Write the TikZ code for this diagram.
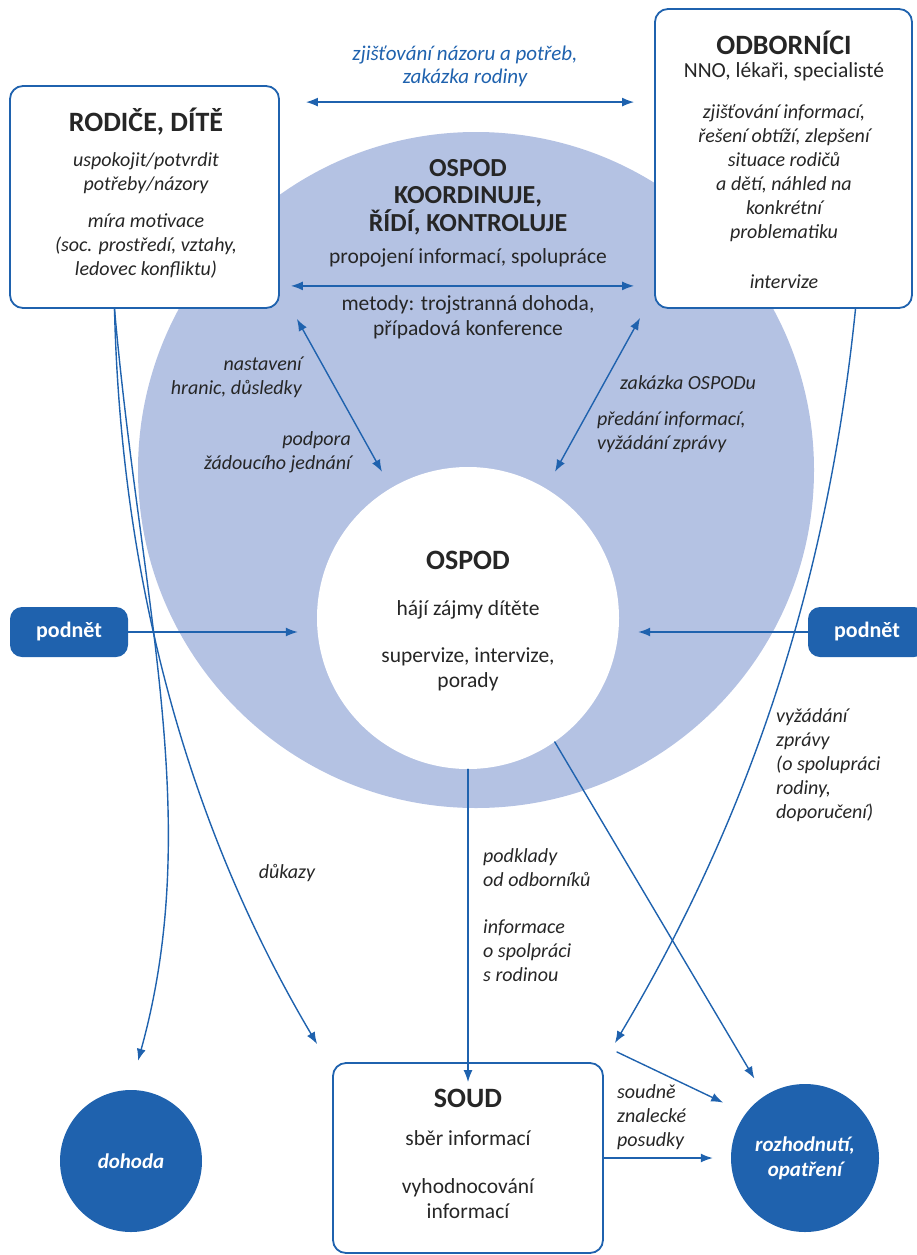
\documentclass[tikz,border=0pt]{standalone}
\usepackage{fontspec}
\setmainfont{Carlito}
\usetikzlibrary{arrows.meta}
\definecolor{modra}{HTML}{1F62AE}
\definecolor{svetla}{HTML}{B4C2E3}
\definecolor{sediva}{HTML}{262626}
\begin{document}
\begin{tikzpicture}[x=1pt,y=-1pt,line join=round,line cap=round,>={Latex[length=12pt,width=9pt]},
  text=sediva,font=\fontsize{21.5}{25}\selectfont,every node/.style={inner sep=1pt},
  sipka/.style={draw=modra,line width=1.4pt},
  ramec/.style={draw=modra,line width=1.8pt,rounded corners=13pt,fill=white,inner sep=0pt},
  nadpis/.style={font=\fontsize{28}{28}\selectfont\bfseries,align=center},
  kurz/.style={font=\fontsize{20}{24}\selectfont\itshape,align=center,inner sep=0pt},
  rovne/.style={align=center},
  tlac/.style={fill=modra,rounded corners=12pt,text=white,font=\fontsize{22}{24}\selectfont\bfseries,minimum width=118pt,minimum height=50pt},
  kolo/.style={circle,fill=modra,text=white,font=\fontsize{21}{25}\selectfont\bfseries\itshape,align=center,minimum size=#1}]
 \useasboundingbox (0,0) rectangle (916,1255);
 % kruhy OSPOD
 \node[circle,fill=svetla,minimum size=676pt] (koord) at (476,470) {};
 \node[circle,fill=white,minimum size=302pt] (ospod) at (468,618) {};
 % ramce a kola
 \node[ramec,minimum width=269pt,minimum height=222pt] (rodice) at (144.5,197) {};
 \node[ramec,minimum width=257pt,minimum height=299pt] (odbor) at (783.5,158.5) {};
 \node[ramec,minimum width=270pt,minimum height=190pt] (soud) at (468,1158) {};
 \node[tlac] (podnetL) at (69,632) {podnět};
 \node[tlac] (podnetP) at (867,632) {podnět};
 \node[kolo=142pt] (dohoda) at (131,1161) {dohoda};
 \node[kolo=148pt] (rozh) at (805,1158) {rozhodnutí,\\opatření};
 % texty
 \node[nadpis] (rodice-n) at (146,122) {RODIČE, DÍTĚ};
 \node[kurz] (rodice-a) at (146,173) {uspokojit/potvrdit\\potřeby/názory};
 \node[kurz] (rodice-b) at (146,246) {míra motivace\\(soc. prostředí, vztahy,\\ledovec konfliktu)};
 \node[nadpis] (odbor-n) at (784,43) {ODBORNÍCI};
 \node (odbor-a) at (784,72) {NNO, lékaři, specialisté};
 \node[kurz] (odbor-b) at (784,173.5) {zjišťování informací,\\řešení obtíží, zlepšení\\situace rodičů\\a dětí, náhled na\\konkrétní\\problematiku};
 \node[kurz] (odbor-c) at (784,282) {intervize};
 \node[kurz,text=modra,font=\fontsize{21}{23}\selectfont\itshape] (zakazka) at (465,66) {zjišťování názoru a potřeb,\\zakázka rodiny};
 \node[nadpis,font=\fontsize{26}{27.5}\selectfont\bfseries] (koord-n) at (468,197) {OSPOD\\KOORDINUJE,\\ŘÍDÍ, KONTROLUJE};
 \node (koord-a) at (468,258) {propojení informací, spolupráce};
 \node[rovne] (koord-b) at (468,317.5) {metody: trojstranná dohoda,\\případová konference};
 \node[kurz,align=right,anchor=east] (hranice) at (302,377) {nastavení\\hranic, důsledky};
 \node[kurz,align=right,anchor=east] (podpora) at (351,452) {podpora\\žádoucího jednání};
 \node[kurz,anchor=west] (zakOSPOD) at (620,383) {zakázka OSPODu};
 \node[kurz,align=left,anchor=west] (predani) at (597,432) {předání informací,\\vyžádání zprávy};
 \node[nadpis] (ospod-n) at (468,560) {OSPOD};
 \node (ospod-a) at (468,610) {hájí zájmy dítěte};
 \node[rovne] (ospod-b) at (468,669) {supervize, intervize,\\porady};
 \node[kurz,align=left,anchor=west] (vyzadani) at (776,765) {vyžádání\\zprávy\\(o spolupráci\\rodiny,\\doporučení)};
 \node[kurz] (dukazy) at (287,873) {důkazy};
 \node[kurz,align=left,anchor=west] (podklady) at (483,868) {podklady\\od odborníků};
 \node[kurz,align=left,anchor=west] (informace) at (483,951) {informace\\o spolpráci\\s rodinou};
 \node[kurz,align=left,anchor=west] (posudky) at (617,1117) {soudně\\znalecké\\posudky};
 \node[nadpis] (soud-n) at (468,1098) {SOUD};
 \node (soud-a) at (468,1138) {sběr informací};
 \node[rovne] (soud-b) at (468,1199) {vyhodnocování\\informací};
 % sipky
 \draw[sipka,<->] ([shift={(26,17)}]rodice.north east) -- ([shift={(-20,94)}]odbor.north west);
 \draw[sipka,<->] ([shift={(11,-23)}]rodice.south east) -- ([shift={(-20,-23)}]odbor.south west);
 \draw[sipka,<->] ([shift={(17,10)}]rodice.south east) -- ([shift={(-86,5)}]ospod.north);
 \draw[sipka,<->] ([shift={(-14,9)}]odbor.south west) -- ([shift={(87,5)}]ospod.north);
 \draw[sipka,->] (podnetL) -- ([xshift=-19]podnetL -| ospod.west);
 \draw[sipka,->] (podnetP) -- ([xshift=19]podnetP -| ospod.east);
 \draw[sipka,->] (ospod) -- ([yshift=-20]soud.north);
 \draw[sipka,->,shorten >=20pt] (ospod.-55) -- (rozh.123);
 \draw[sipka,->] (soud.east) -- ([xshift=-18]soud.east -| rozh.west);
 \coordinate (posudek) at (617,1052);
 \draw[sipka,->,shorten >=25pt] (posudek) -- (rozh.143);
 \draw[sipka,->] ([xshift=-30]rodice.south) .. controls (140,600) and (205,820) .. ([shift={(7,-29)}]dohoda.north);
 \draw[sipka,->] ([xshift=-30]rodice.south) .. controls (121,583) and (189,828) .. ([shift={(-15,-18)}]soud.north west);
 \draw[sipka,->] ([xshift=72]odbor.south) .. controls (830,560) and (760,800) .. ([shift={(11,-19)}]soud.north east);
\end{tikzpicture}
\end{document}
